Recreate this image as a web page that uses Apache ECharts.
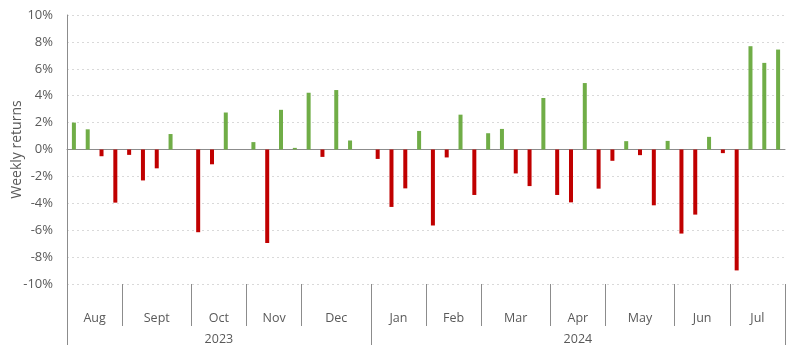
<!DOCTYPE html>
<html>
<head>
<meta charset="utf-8">
<script src="https://cdn.jsdelivr.net/npm/echarts@6/dist/echarts.min.js"></script>
<style>
  html, body { margin: 0; padding: 0; background: #fff; }
  #chart { width: 800px; height: 345px; }
</style>
</head>
<body>
<div id="chart"></div>
<script>
// Weekly returns, Aug 2023 – Jul 2024 (percent)
const weeklyReturns = [
  2.0, 1.5, -0.5, -3.95,
  -0.4, -2.3, -1.4, 1.15, 0,
  -6.15, -1.1, 2.75, 0,
  0.55, -6.95, 2.95, 0.12,
  4.22, -0.55, 4.42, 0.67, 0,
  -0.7, -4.27, -2.89, 1.38,
  -5.65, -0.59, 2.59, -3.38,
  1.21, 1.53, -1.78, -2.72, 3.83,
  -3.38, -3.93, 4.94, -2.91,
  -0.84, 0.62, -0.42, -4.15, 0.64,
  -6.25, -4.84, 0.94, -0.27,
  -8.99, 7.68, 6.44, 7.43
];
const monthNames = ['Aug', 'Sept', 'Oct', 'Nov', 'Dec', 'Jan', 'Feb', 'Mar', 'Apr', 'May', 'Jun', 'Jul'];
const weeksPerMonth = [4, 5, 4, 4, 5, 4, 4, 5, 4, 5, 4, 4];
const yearNames = ['2023', '2024'];
const monthsPerYear = [5, 7];
const yTicks = [-10, -8, -6, -4, -2, 0, 2, 4, 6, 8, 10];

const weekLabels = weeklyReturns.map((_, i) => 'W' + (i + 1));
const nWeeks = weeklyReturns.length;

// Group axes use half-week steps so group centres and boundaries both land on ticks.
function buildGroupAxis(names, sizesInWeeks) {
  const labels = new Array(nWeeks * 2 + 1).fill('');
  const bounds = new Set([0]);
  let start = 0;
  names.forEach((name, i) => {
    labels[start * 2 + sizesInWeeks[i]] = name;
    start += sizesInWeeks[i];
    bounds.add(start * 2);
  });
  return { labels, bounds };
}
const monthAxis = buildGroupAxis(monthNames, weeksPerMonth);
let acc = 0;
const weeksPerYear = monthsPerYear.map(n => {
  const w = weeksPerMonth.slice(acc, acc + n).reduce((a, b) => a + b, 0);
  acc += n;
  return w;
});
const yearAxis = buildGroupAxis(yearNames, weeksPerYear);

const FONT = '"Open Sans", "Noto Sans", sans-serif';
const TEXT = '#595959';
const LINE = '#8c8c8c';

const chart = echarts.init(document.getElementById('chart'), null, { renderer: 'canvas' });
chart.setOption({
  animation: false,
  grid: { left: 67, right: 15, top: 15, bottom: 61, outerBoundsMode: 'none', containLabel: false },
  xAxis: [
    {
      type: 'category',
      data: weekLabels,
      position: 'bottom',
      axisLine: { show: true, onZero: true, lineStyle: { color: LINE, width: 1 } },
      axisTick: { show: false },
      axisLabel: { show: false },
      splitLine: { show: false }
    },
    {
      type: 'category',
      data: monthAxis.labels,
      boundaryGap: false,
      position: 'bottom',
      axisLine: { show: false, onZero: false },
      axisTick: {
        show: true,
        length: 42,
        interval: (idx) => monthAxis.bounds.has(idx),
        lineStyle: { color: LINE, width: 1 }
      },
      axisLabel: {
        show: true,
        interval: (idx, val) => val !== '',
        margin: 28,
        color: TEXT,
        fontSize: 12.5,
        fontFamily: FONT
      },
      splitLine: { show: false }
    },
    {
      type: 'category',
      data: yearAxis.labels,
      boundaryGap: false,
      position: 'bottom',
      axisLine: { show: false, onZero: false },
      axisTick: {
        show: true,
        length: 61,
        interval: (idx) => yearAxis.bounds.has(idx),
        lineStyle: { color: LINE, width: 1 }
      },
      axisLabel: {
        show: true,
        interval: (idx, val) => val !== '',
        margin: 49,
        color: TEXT,
        fontSize: 12.5,
        fontFamily: FONT
      },
      splitLine: { show: false }
    }
  ],
  yAxis: {
    type: 'value',
    min: yTicks[0],
    max: yTicks[yTicks.length - 1],
    interval: yTicks[1] - yTicks[0],
    name: 'Weekly returns',
    nameLocation: 'middle',
    nameRotate: 90,
    nameGap: 43,
    nameMoveOverlap: false,
    nameTextStyle: { color: TEXT, fontSize: 14, fontFamily: FONT },
    axisLine: { show: true, lineStyle: { color: LINE, width: 1 } },
    axisTick: { show: false },
    axisLabel: {
      formatter: '{value}%',
      color: TEXT,
      fontSize: 13,
      fontFamily: FONT,
      margin: 14
    },
    splitLine: { show: true, lineStyle: { color: '#d9d9d9', type: [2, 3], width: 1 } }
  },
  series: [
    {
      type: 'bar',
      xAxisIndex: 0,
      data: weeklyReturns,
      barWidth: 4,
      itemStyle: {
        color: (p) => (p.value >= 0 ? '#70AD47' : '#C00000')
      }
    }
  ]
});
</script>
</body>
</html>
